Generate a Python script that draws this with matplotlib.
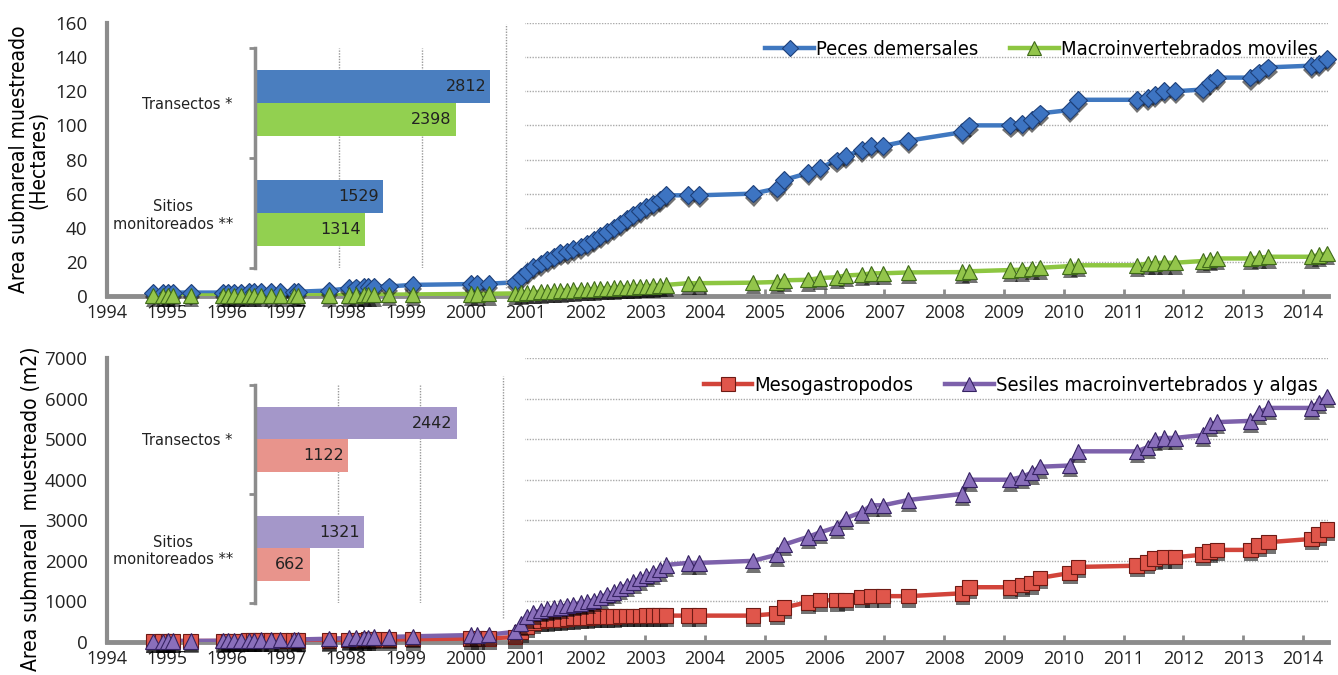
import numpy as np
import matplotlib.pyplot as plt
import matplotlib.patches as patches
import matplotlib.patheffects as pe
from matplotlib.font_manager import FontProperties

# fechas de muestreo (año decimal), comunes a las cuatro series
fechas = [1994.77, 1994.93, 1995.02, 1995.10, 1995.40, 1995.94, 1996.02, 1996.12, 1996.24,
          1996.37, 1996.45, 1996.57, 1996.74, 1996.90, 1997.12, 1997.19, 1997.71, 1998.04,
          1998.16, 1998.29, 1998.37, 1998.46, 1998.71, 1999.11, 2000.08, 2000.19, 2000.38,
          2000.82, 2000.92, 2001.02, 2001.13, 2001.25, 2001.36, 2001.47, 2001.58, 2001.69,
          2001.80, 2001.92, 2002.03, 2002.14, 2002.25, 2002.36, 2002.47, 2002.58, 2002.69,
          2002.80, 2002.91, 2003.02, 2003.13, 2003.24, 2003.35,
          2003.72, 2003.90, 2004.80, 2005.20, 2005.32, 2005.72, 2005.92, 2006.20, 2006.35,
          2006.62, 2006.78, 2006.98, 2007.40, 2008.30, 2008.42, 2009.10, 2009.30, 2009.46,
          2009.60, 2010.10, 2010.24, 2011.22, 2011.40, 2011.52, 2011.68, 2011.86, 2012.32,
          2012.44, 2012.56, 2013.12, 2013.26, 2013.42, 2014.14, 2014.26, 2014.40]

# Hectares
peces = [2, 2, 2, 2, 2, 2, 2, 2, 2, 2.2, 2.2, 2.2, 2.2, 2.4, 2.4, 2.5, 3.2, 4.5,
         5, 5.2, 5.2, 5.4, 5.6, 6.5, 7, 7, 7.2,
         8, 11, 14, 17, 19, 21, 23, 25, 26, 27.5, 29, 30.5, 33, 35, 37.5, 40, 42, 45,
         47.5, 50, 52, 54, 56.5, 59,
         59, 59, 60, 63, 68, 72, 75, 79.5, 82, 85.5, 88, 88, 91, 96, 100, 100, 101, 103,
         107, 109, 115, 115, 116, 118, 120, 120, 121, 125, 128, 128, 131, 134, 135, 136, 139]
macro = [0.3] * 16 + [0.5, 0.6, 0.6, 0.7, 0.7, 0.7, 0.8, 0.9, 1.2, 1.2, 1.3] + \
        [1.5, 1.8, 2.0, 2.2, 2.5, 2.7, 2.9, 3.1, 3.3, 3.5, 3.7, 3.9, 4.1, 4.3, 4.5, 4.7,
         4.9, 5.1, 5.3, 5.5, 5.7, 5.9, 6.2, 6.5] + \
        [7.5, 7.5, 7.8, 8.2, 9.2, 9.5, 10.5, 11, 12, 12.5, 13.3, 13.3, 13.8, 14, 14.5,
         15.2, 15.4, 16, 16.5, 17.5, 18, 18, 19, 19.3, 19.5, 19.5, 20.5, 21.5, 22, 22,
         22.5, 23, 23, 24, 25]

# m2
meso = [20, 20, 22, 22, 24, 26, 26, 28, 28, 30, 30, 32, 32, 34, 36, 36, 40, 50, 52, 54,
        56, 58, 60, 70, 85, 88, 90,
        120, 250, 380, 470, 520, 540, 550, 560, 580, 590, 600, 610, 620, 625, 630, 635,
        640, 640, 645, 645, 650, 650, 650, 650,
        650, 650, 650, 700, 850, 980, 1030, 1030, 1040, 1110, 1130, 1130, 1130, 1200, 1350,
        1350, 1400, 1450, 1580, 1700, 1850, 1880, 1960, 2060, 2090, 2090, 2150, 2230, 2270,
        2270, 2380, 2460, 2540, 2650, 2780]
sesiles = [20, 20, 22, 24, 26, 30, 32, 34, 36, 40, 42, 46, 50, 56, 60, 62, 80, 100, 105,
           110, 115, 120, 125, 140, 170, 175, 180,
           250, 450, 620, 720, 780, 820, 840, 860, 900, 930, 960, 990, 1030, 1100, 1170,
           1230, 1320, 1400, 1480, 1560, 1640, 1700, 1780, 1900,
           1950, 1950, 2000, 2150, 2400, 2590, 2700, 2830, 3050, 3200, 3370, 3370, 3500,
           3650, 4000, 4000, 4070, 4170, 4320, 4350, 4700, 4700, 4800, 5000, 5030, 5030,
           5100, 5350, 5420, 5450, 5650, 5770, 5770, 5900, 6050]

# recuadros de barras
categorias = ['Sitios\nmonitoreados **', 'Transectos *']
bar_peces = [1529, 2812]
bar_macro = [1314, 2398]
bar_sesiles = [1321, 2442]
bar_meso = [662, 1122]

anios = list(range(1994, 2015))

TICKF = ['Open Sans', 'DejaVu Sans']
GRIS = '#8c8c8c'


def narrow(size):
    return FontProperties(family='DejaVu Sans', stretch='condensed', size=size)


fig = plt.figure(figsize=(13.38, 6.75), dpi=100)
ax1 = fig.add_axes([0.080, 0.5615, 0.9126, 0.4044])
ax2 = fig.add_axes([0.080, 0.0489, 0.9126, 0.4207])

sombra = [pe.SimplePatchShadow(offset=(0.5, -3), shadow_rgbFace='black', alpha=0.55), pe.Normal()]


def serie(ax, y, col_line, col_face, col_edge, marker, ms, label):
    ax.plot(fechas, y, color=col_line, lw=3.2, zorder=3, solid_capstyle='butt')
    ax.plot(fechas, y, ls='none', marker=marker, ms=ms, mfc=col_face, mec=col_edge, mew=0.8,
            zorder=4, clip_on=False, path_effects=sombra)
    # solo para la leyenda
    ax.plot([], [], color=col_line, lw=3.2, marker=marker, ms=ms * 0.9, mfc=col_face,
            mec=col_edge, mew=0.8, label=label)


def base(ax, ymax, ystep):
    ax.set_xlim(1994, 2014.42)
    ax.set_ylim(0, ymax)
    ax.set_xticks(anios)
    ax.set_yticks(np.arange(0, ymax + 1, ystep))
    for s in ['top', 'right']:
        ax.spines[s].set_visible(False)
    ax.spines['left'].set_color(GRIS)
    ax.spines['left'].set_linewidth(3)
    ax.spines['bottom'].set_color(GRIS)
    ax.spines['bottom'].set_linewidth(3.5)
    ax.tick_params(axis='x', direction='in', length=5, width=2, color=GRIS, pad=6, labelsize=13)
    ax.tick_params(axis='y', length=0, pad=14, labelsize=13.5)
    for t in ax.get_xticklabels() + ax.get_yticklabels():
        t.set_family(TICKF)
        t.set_color('#222222')
    ax.yaxis.grid(True, ls=(0, (1, 1)), color='#aaaaaa', lw=1, zorder=0)
    ax.set_axisbelow(True)
    # fondo blanco del recuadro de barras
    ax.add_patch(patches.Rectangle((0, 0.045), 0.342, 1.0, transform=ax.transAxes,
                                   facecolor='white', edgecolor='none', zorder=1))


base(ax1, 160, 20)
base(ax2, 7000, 1000)

serie(ax1, peces, '#4078c0', '#3d74c2', '#1d3f78', 'D', 9, 'Peces demersales')
serie(ax1, macro, '#8dc641', '#93c54b', '#3f6a1a', '^', 11, 'Macroinvertebrados moviles')
serie(ax2, meso, '#d2443a', '#e0564b', '#6e1a14', 's', 10.5, 'Mesogastropodos')
serie(ax2, sesiles, '#7d61ab', '#8a6fbb', '#352262', '^', 11, 'Sesiles macroinvertebrados y algas')

for ax, y in [(ax1, 1.005), (ax2, 1.0)]:
    ax.legend(loc='upper right', bbox_to_anchor=(1.006, y), ncol=2, frameon=False,
              prop=narrow(14.5), handlelength=2.4, handletextpad=0.1,
              columnspacing=1.6)

ax1.set_ylabel('Area submareal muestreado\n(Hectares)', fontproperties=narrow(15),
               linespacing=0.95)
ax1.yaxis.set_label_coords(-0.048, 0.5)
ax2.set_ylabel('Area submareal  muestreado (m2)', fontproperties=narrow(15))
ax2.yaxis.set_label_coords(-0.054, 0.47)


def recuadro(rect, va, vb, ca, cb, ext):
    ins = fig.add_axes(rect)
    ins.patch.set_alpha(0)
    y = np.arange(len(categorias))
    ba = ins.barh(y + 0.15, va, height=0.3, color=ca, zorder=2)
    bb = ins.barh(y - 0.15, vb, height=0.3, color=cb, zorder=2)
    for b in (ba, bb):
        for t in ins.bar_label(b, padding=-3, fontsize=11.5, color='#222222'):
            t.set_ha('right')
    ins.set_xlim(0, 3000)
    ins.set_ylim(-0.5, 1.5)
    ins.set_yticks(y)
    ins.set_yticklabels(categorias, fontsize=10.5, color='#222222')
    for t in ins.get_yticklabels():
        t.set_multialignment('center')
    ins.set_yticks([-0.5, 0.5, 1.5], minor=True)
    ins.tick_params(axis='y', which='major', length=0, pad=16)
    ins.tick_params(axis='y', which='minor', length=4, width=2, color=GRIS)
    ins.set_xticks([1000, 2000])
    ins.tick_params(axis='x', length=0, labelbottom=False)
    ins.xaxis.grid(True, ls=(0, (1, 1)), color='#999999', lw=1)
    ins.set_axisbelow(True)
    ins.axvline(3000, ymin=ext[0], ymax=ext[1], ls=(0, (1, 1)), color='#999999', lw=1,
                clip_on=False)
    for s in ['top', 'right', 'bottom']:
        ins.spines[s].set_visible(False)
    ins.spines['left'].set_color(GRIS)
    ins.spines['left'].set_linewidth(2.5)
    return ins


recuadro([0.1906, 0.603, 0.1876, 0.326], bar_peces, bar_macro, '#4a7ebf', '#92d050',
         (-0.09, 1.11))
recuadro([0.1906, 0.1067, 0.1853, 0.323], bar_sesiles, bar_meso, '#a497c9', '#e8948c',
         (-0.07, 1.04))

fig.savefig('out.png', dpi=100)
